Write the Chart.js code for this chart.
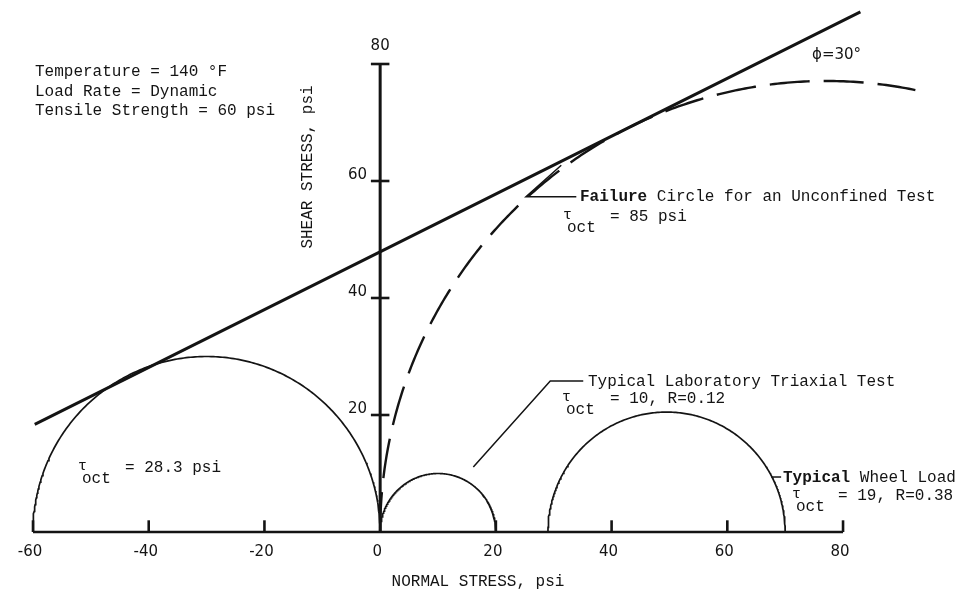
<!DOCTYPE html>
<html>
<head>
<meta charset="utf-8">
<script src="https://cdn.jsdelivr.net/npm/chart.js@4.4.1/dist/chart.umd.min.js"></script>
<style>
  html, body { margin: 0; padding: 0; background: #ffffff; }
  canvas { display: block; }
</style>
</head>
<body>
<canvas id="mohr" width="963" height="594"></canvas>
<script>
// Axis ticks (psi)
const xTicks = [-60, -40, -20, 0, 20, 40, 60, 80];
const yTicks = [20, 40, 60, 80];

// Mohr circles given by principal stresses [sigma3, sigma1] in psi
const tensileCircle = [-60, 0];      // tau_oct = 28.3 psi
const triaxialCircle = [0, 20];      // typical laboratory triaxial test
const wheelCircle = [29, 70];        // typical wheel load
const failureCircle = [0, 154.2];    // unconfined failure circle (dashed)
const failureVisibleTo = 92.5;       // normal stress where the dashed arc stops

// Failure envelope end points (phi = 30 deg)
const envelopeX = [-59.7, 83];
const envelopeY = [18.4, 88.9];

// ---- drawing setup ----
const INK = '#141414';
const MONO = '"Liberation Mono", "DejaVu Sans Mono", monospace';
const SANS = '"DejaVu Sans", sans-serif';

// semicircle (upper half) of a Mohr circle, optionally cut at a given normal stress
function mohrArc(pair, cutAt) {
  const c = (pair[0] + pair[1]) / 2, r = (pair[1] - pair[0]) / 2;
  const end = cutAt === undefined ? 0 : Math.acos((cutAt - c) / r);
  const pts = [];
  const n = 240;
  for (let i = 0; i <= n; i++) {
    const a = Math.PI - (Math.PI - end) * i / n;
    pts.push({ x: c + r * Math.cos(a), y: r * Math.sin(a) });
  }
  return pts;
}

function line(data, width, dash) {
  return {
    data, showLine: true, borderColor: INK, backgroundColor: INK,
    borderWidth: width, pointRadius: 0, tension: 0, fill: false,
    borderDash: dash || [], borderCapStyle: 'butt', borderJoinStyle: 'miter'
  };
}

const datasets = [];
// axes
datasets.push(line([{ x: xTicks[0], y: 0 }, { x: xTicks[xTicks.length - 1], y: 0 }], 2.6));
datasets.push(line([{ x: 0, y: 0 }, { x: 0, y: yTicks[yTicks.length - 1] }], 3));
// tick marks
xTicks.filter(v => v !== 0).forEach(v => datasets.push(line([{ x: v, y: 0 }, { x: v, y: 2.0 }], 2.6)));
yTicks.forEach(v => datasets.push(line([{ x: -1.6, y: v }, { x: 1.6, y: v }], 2.6)));
// envelope
datasets.push(line(envelopeX.map((x, i) => ({ x, y: envelopeY[i] })), 3));
// circles
datasets.push(line(mohrArc(tensileCircle), 1.7));
datasets.push(line(mohrArc(triaxialCircle), 1.7));
datasets.push(line(mohrArc(wheelCircle), 1.7));
datasets.push(line(mohrArc(failureCircle, failureVisibleTo), 2.4, [40, 14]));
// label leaders
const leaders = [
  [{ x: 31.3, y: 62.7 }, { x: 25.2, y: 57.3 }, { x: 33.9, y: 57.3 }],
  [{ x: 16.1, y: 11.1 }, { x: 29.4, y: 25.8 }, { x: 35.1, y: 25.8 }],
  [{ x: 67.6, y: 9.4 }, { x: 69.3, y: 9.4 }]
];
leaders.forEach(l => datasets.push(line(l, 1.5)));

// text placed on the figure
const headerLines = ['Temperature = 140 °F', 'Load Rate = Dynamic', 'Tensile Strength = 60 psi'];
const tauNotes = [
  { x: 78, y: 472, value: '= 28.3 psi', gap: 47 },
  { x: 563, y: 221, value: '= 85 psi', gap: 47 },
  { x: 562, y: 403, value: '= 10, R=0.12', gap: 48 },
  { x: 792, y: 500, value: '= 19, R=0.38', gap: 46 }
];

const textPlugin = {
  id: 'figureText',
  afterDatasetsDraw(chart) {
    const ctx = chart.ctx;
    const xs = chart.scales.x, ys = chart.scales.y;
    ctx.save();
    ctx.fillStyle = INK;

    // tick labels
    ctx.font = '15px ' + SANS;
    ctx.textAlign = 'center';
    ctx.textBaseline = 'middle';
    xTicks.forEach(v => ctx.fillText(String(v), xs.getPixelForValue(v) - 3, 552));
    yTicks.forEach(v => {
      if (v === yTicks[yTicks.length - 1]) {
        ctx.textAlign = 'center';
        ctx.fillText(String(v), xs.getPixelForValue(0), ys.getPixelForValue(v) - 18);
      } else {
        ctx.textAlign = 'right';
        ctx.fillText(String(v), 367, ys.getPixelForValue(v) - 6);
      }
    });

    // axis titles
    ctx.font = '16px ' + MONO;
    ctx.textAlign = 'center';
    ctx.fillText('NORMAL STRESS, psi', 478, 582);
    ctx.save();
    ctx.translate(308, 167);
    ctx.rotate(-Math.PI / 2);
    ctx.fillText('SHEAR STRESS, psi', 0, 0);
    ctx.restore();

    // header
    ctx.textAlign = 'left';
    headerLines.forEach((t, i) => ctx.fillText(t, 35, 72 + i * 19.5));

    // friction angle
    ctx.font = '15px ' + SANS;
    ctx.fillText('ϕ=30°', 812, 55);

    // circle captions
    ctx.textBaseline = 'alphabetic';
    const bold = 'bold 16px ' + MONO, reg = '16px ' + MONO;
    ctx.font = bold; ctx.fillText('Failure', 580, 201);
    let w = ctx.measureText('Failure').width;
    ctx.font = reg; ctx.fillText(' Circle for an Unconfined Test', 580 + w, 201);
    ctx.fillText('Typical Laboratory Triaxial Test', 588, 386);
    ctx.font = bold; ctx.fillText('Typical', 783, 482);
    w = ctx.measureText('Typical').width;
    ctx.font = reg; ctx.fillText(' Wheel Load', 783 + w, 482);

    tauNotes.forEach(n => {
      ctx.font = '15px ' + MONO;
      ctx.fillText('τ', n.x, n.y - 2);
      ctx.font = reg;
      ctx.fillText('oct', n.x + 4, n.y + 11);
      ctx.fillText(n.value, n.x + n.gap, n.y);
    });
    ctx.restore();
  }
};

// scale limits chosen so the origin sits at the axis crossing with ~5.8 px per psi
const pxPerPsiX = 5.786, pxPerPsiY = 5.85;
const xMin = -60 - 33 / pxPerPsiX, xMax = xMin + 963 / pxPerPsiX;
const yMax = 532 / pxPerPsiY, yMin = yMax - 594 / pxPerPsiY;

new Chart(document.getElementById('mohr'), {
  type: 'scatter',
  data: { datasets },
  options: {
    responsive: false,
    animation: false,
    devicePixelRatio: 1,
    events: [],
    layout: { padding: 0 },
    plugins: { legend: { display: false }, tooltip: { enabled: false } },
    scales: {
      x: { type: 'linear', display: false, min: xMin, max: xMax },
      y: { type: 'linear', display: false, min: yMin, max: yMax }
    }
  },
  plugins: [textPlugin]
});
</script>
</body>
</html>
